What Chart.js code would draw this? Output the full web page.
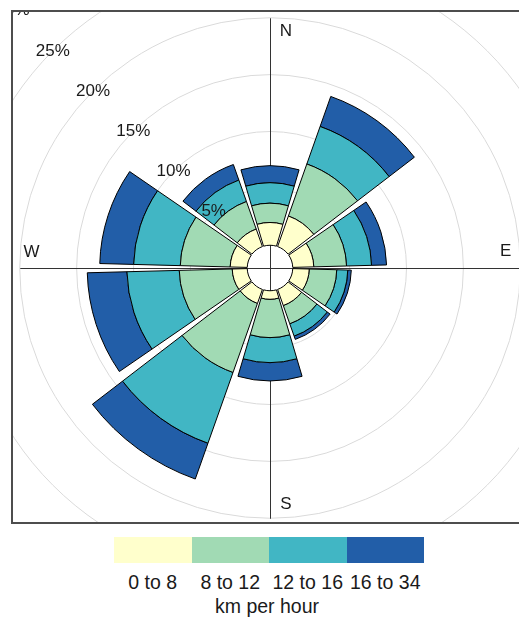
<!DOCTYPE html>
<html>
<head>
<meta charset="utf-8">
<script src="https://cdn.jsdelivr.net/npm/chart.js@4/dist/chart.umd.min.js"></script>
<style>
html,body{margin:0;padding:0;background:#fff;width:519px;height:620px;overflow:hidden;font-family:"Liberation Sans",Arial,sans-serif;}
#panel{position:absolute;left:11px;top:10px;width:540px;height:514px;box-sizing:border-box;border:2px solid #4d4d4d;overflow:hidden;background:#fff;}
#rose{position:absolute;left:-107px;top:-108px;}
#legend{position:absolute;left:114px;top:537px;width:310px;height:26px;display:flex;}
.sw{flex:1;height:26px;}
.lab{position:absolute;top:570.5px;width:100px;margin-left:-50px;text-align:center;font-size:19.5px;line-height:22px;color:#1a1a1a;white-space:nowrap;}
#unit{position:absolute;top:595px;left:167px;width:200px;text-align:center;font-size:19.5px;line-height:22px;color:#1a1a1a;}
</style>
</head>
<body>
<div id="panel"><canvas id="rose" width="728" height="728"></canvas></div>
<div id="legend"></div>
<div id="legendLabels"></div>
<div id="unit"></div>
<script>
// ---- data (percent of time, by direction and speed bin) ----
const directions = [0, 36, 72, 108, 144, 180, 216, 252, 288, 324];
const speedBins  = ['0 to 8', '8 to 12', '12 to 16', '16 to 34'];
const speedUnit  = 'km per hour';
const bin0to8    = [2.00, 2.85, 1.85, 1.45, 1.50, 0.75, 1.30, 1.32, 1.50, 1.63];
const bin8to12   = [1.70, 4.85, 2.88, 2.42, 1.70, 3.37, 6.44, 4.66, 4.39, 2.57];
const bin12to16  = [1.80, 3.50, 2.20, 0.97, 1.15, 2.20, 6.60, 4.60, 4.10, 2.00];
const bin16to34  = [1.50, 2.80, 1.32, 0.31, 0.31, 1.61, 3.34, 3.49, 2.98, 1.45];
const gridValues = [5, 10, 15, 20, 25, 30];
const tickLabels = ['5%', '10%', '15%', '20%', '25%', '30%'];
const compassLabels = ['N', 'E', 'S', 'W'];

// ---- styling ----
const binColors = ['#FFFFCC', '#A1DAB4', '#41B6C4', '#225EA8'];
const calmOffset = 2;      // empty centre, in % units
const axisExtent = 20;     // axis lines reach this % circle
const petalFraction = 33 / 36;

// stacked wind-rose controller built on the polar-area controller
class WindRoseController extends Chart.PolarAreaController {
  updateElements(arcs, start, count, mode) {
    super.updateElements(arcs, start, count, mode);
    const scale = this._cachedMeta.rScale;
    const datasets = this.chart.data.datasets;
    const di = this.index;
    const n = this.chart.data.labels.length;
    const half = (Math.PI * 2 / n) * petalFraction / 2;
    for (let i = start; i < start + count; i++) {
      let base = 0;
      for (let d = 0; d < di; d++) base += datasets[d].data[i];
      const top = base + datasets[di].data[i];
      const mid = scale.getIndexAngle(i) - Math.PI / 2;
      const arc = arcs[i];
      arc.innerRadius = scale.getDistanceFromCenterForValue(base);
      arc.outerRadius = scale.getDistanceFromCenterForValue(top);
      arc.startAngle = mid - half;
      arc.endAngle = mid + half;
    }
  }
}
WindRoseController.id = 'windRose';
Chart.register(WindRoseController);

const decor = {
  id: 'roseDecor',
  beforeDatasetsDraw(chart) {
    const s = chart.scales.r, ctx = chart.ctx;
    const L = s.getDistanceFromCenterForValue(axisExtent);
    const cx = s.xCenter + 0.5, cy = s.yCenter + 0.5;
    ctx.save();
    ctx.strokeStyle = '#333';
    ctx.lineWidth = 1;
    ctx.beginPath();
    ctx.moveTo(cx, cy - L); ctx.lineTo(cx, cy + L);
    ctx.moveTo(cx - L, cy); ctx.lineTo(cx + L, cy);
    ctx.stroke();
    ctx.restore();
  },
  afterDatasetsDraw(chart) {
    const s = chart.scales.r, ctx = chart.ctx;
    const cx = s.xCenter, cy = s.yCenter;
    ctx.save();
    ctx.fillStyle = '#1a1a1a';
    ctx.font = '17px "Liberation Sans", Arial, sans-serif';
    ctx.textAlign = 'center';
    ctx.textBaseline = 'middle';
    const a = Math.SQRT1_2;
    gridValues.forEach((v, i) => {
      const d = s.getDistanceFromCenterForValue(v);
      ctx.fillText(tickLabels[i], cx - d * a, cy - d * a);
    });
    const R = s.getDistanceFromCenterForValue(18.8);
    const off = 16;
    ctx.fillText(compassLabels[0], cx + off, cy - R);
    ctx.fillText(compassLabels[1], cx + R - 1, cy - off - 0.5);
    ctx.fillText(compassLabels[2], cx + off, cy + R);
    ctx.fillText(compassLabels[3], cx - R - 2, cy - off);
    ctx.restore();
  }
};

const binData = [bin0to8, bin8to12, bin12to16, bin16to34];
new Chart(document.getElementById('rose'), {
  type: 'windRose',
  data: {
    labels: directions.map(d => d + '°'),
    datasets: binData.map((vals, k) => ({
      label: speedBins[k],
      data: vals,
      backgroundColor: binColors[k],
      borderColor: '#000',
      borderWidth: 1
    }))
  },
  options: {
    responsive: false,
    animation: false,
    layout: { padding: 0 },
    plugins: { legend: { display: false }, tooltip: { enabled: false } },
    scales: {
      r: {
        min: -calmOffset,
        max: 30,
        beginAtZero: false,
        startAngle: 0,
        afterBuildTicks: sc => { sc.ticks = gridValues.map(v => ({ value: v })); },
        ticks: { display: false },
        grid: { circular: true, color: '#DADADA', lineWidth: 1 },
        angleLines: { display: false },
        pointLabels: { display: false }
      }
    }
  },
  plugins: [decor]
});

// colour-key legend
const leg = document.getElementById('legend');
const labs = document.getElementById('legendLabels');
speedBins.forEach((b, k) => {
  const sw = document.createElement('div');
  sw.className = 'sw';
  sw.style.background = binColors[k];
  leg.appendChild(sw);
  const t = document.createElement('div');
  t.className = 'lab';
  t.style.left = (114 + 310 / 4 * (k + 0.5)) + 'px';
  t.textContent = b;
  labs.appendChild(t);
});
document.getElementById('unit').textContent = speedUnit;
</script>
</body>
</html>
